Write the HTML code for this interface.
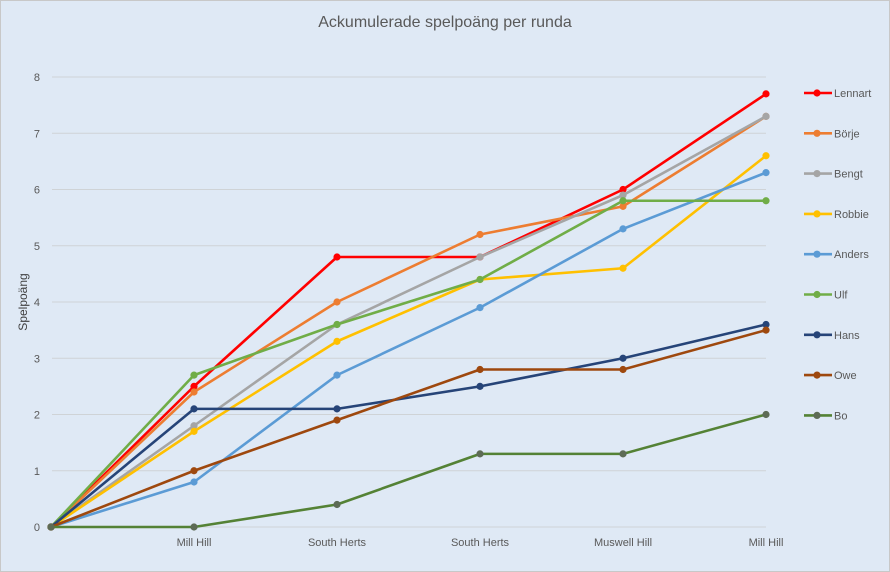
<!DOCTYPE html>
<html><head><meta charset="utf-8"><style>
html,body{margin:0;padding:0;background:#dfe9f5;}
svg{display:block;font-family:"Liberation Sans",sans-serif;}
</style></head><body>
<svg id="c" width="890" height="572" xmlns="http://www.w3.org/2000/svg">
<rect x="0.5" y="0.5" width="889" height="571" fill="#dfe9f5" stroke="#c8c8c8"/>
<text x="445" y="27" text-anchor="middle" font-size="16" fill="#595959">Ackumulerade spelpoäng per runda</text>
<text transform="translate(27,302) rotate(-90)" text-anchor="middle" font-size="12" fill="#404040">Spelpoäng</text>
<g id="grid"></g>
<g id="series"></g>
<g id="legend"></g>
</svg>
<script>
const NS="http://www.w3.org/2000/svg";
function el(t,a,p,txt){const e=document.createElementNS(NS,t);for(const k in a)e.setAttribute(k,a[k]);if(txt!==undefined)e.textContent=txt;p.appendChild(e);return e;}
const Y=v=>527-v*56.25, X=i=>51+i*143;
const g=document.getElementById('grid');
for(let v=0;v<=8;v++){
  el('line',{x1:52,x2:766,y1:Y(v),y2:Y(v),stroke:'#cfd3d6','stroke-width':1},g);
  el('text',{x:40,y:Y(v)+4,'text-anchor':'end','font-size':11,fill:'#595959'},g,String(v));
}
const cats=['Mill Hill','South Herts','South Herts','Muswell Hill','Mill Hill'];
cats.forEach((c,i)=>el('text',{x:X(i+1),y:546,'text-anchor':'middle','font-size':11,fill:'#595959'},g,c));
const data=[
['Lennart','#ff0000',[0,2.5,4.8,4.8,6.0,7.7]],
['Börje','#ed7d31',[0,2.4,4.0,5.2,5.7,7.3]],
['Bengt','#a5a5a5',[0,1.8,3.6,4.8,5.9,7.3]],
['Robbie','#ffc000',[0,1.7,3.3,4.4,4.6,6.6]],
['Anders','#5b9bd5',[0,0.8,2.7,3.9,5.3,6.3]],
['Ulf','#70ad47',[0,2.7,3.6,4.4,5.8,5.8]],
['Hans','#264478',[0,2.1,2.1,2.5,3.0,3.6]],
['Owe','#9e480e',[0,1.0,1.9,2.8,2.8,3.5]],
['Bo','#548235',[0,0,0.4,1.3,1.3,2.0]]
];
const s=document.getElementById('series'),L=document.getElementById('legend');
data.forEach((d,k)=>{
  const pts=d[2].map((v,i)=>X(i)+','+Y(v)).join(' ');
  el('polyline',{points:pts,fill:'none',stroke:d[1],'stroke-width':2.6,'stroke-linejoin':'round'},s);
  d[2].forEach((v,i)=>el('circle',{cx:X(i),cy:Y(v),r:3.6,fill:k==8?'#5d6b55':d[1]},s));
  const ly=93+k*40.3;
  el('line',{x1:804,x2:832,y1:ly,y2:ly,stroke:d[1],'stroke-width':2.6},L);
  el('circle',{cx:817,cy:ly,r:3.6,fill:k==8?'#5d6b55':d[1]},L);
  el('text',{x:834,y:ly+4,'font-size':11,fill:'#595959'},L,d[0]);
});
</script>
</body></html>
